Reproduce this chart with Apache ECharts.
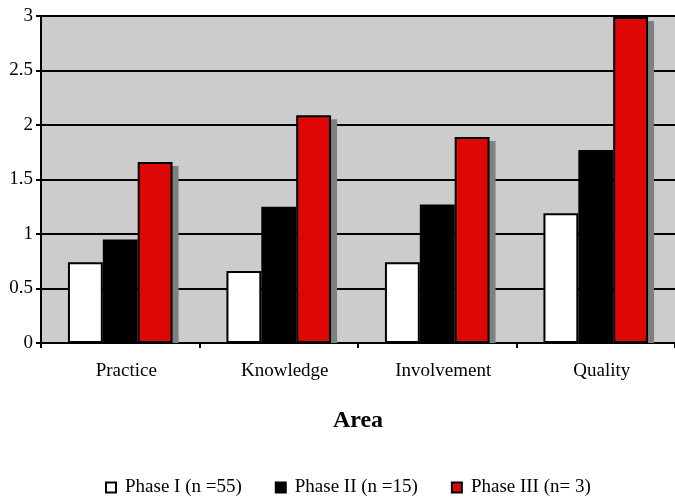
<!DOCTYPE html>
<html><head><meta charset="utf-8">
<script src="https://cdn.jsdelivr.net/npm/echarts@6/dist/echarts.min.js"></script>
<style>html,body{margin:0;padding:0;background:#fff}#c{width:675px;height:497px}</style>
</head><body><div id="c"></div>
<script>
const categories = ['Practice', 'Knowledge', 'Involvement', 'Quality'];
const phase1 = [0.74, 0.66, 0.74, 1.19];
const phase2 = [0.95, 1.25, 1.27, 1.77];
const phase3 = [1.66, 2.09, 1.89, 2.99];
const seriesNames = ['Phase I (n =55)', 'Phase II (n =15)', 'Phase III (n= 3)'];
const yTicks = [0, 0.5, 1, 1.5, 2, 2.5, 3];

const font = 'Liberation Serif';
const catGap = 0.34;
const chart = echarts.init(document.getElementById('c'), null, {renderer: 'canvas'});
chart.setOption({
  animation: false,
  textStyle: {fontFamily: font},
  grid: {left: 41, top: 16, width: 640, height: 327, show: true, backgroundColor: '#cccccc', borderWidth: 0, containLabel: false},
  legend: {
    top: 473, left: 100, itemWidth: 10, itemHeight: 10, itemGap: 33,
    textStyle: {fontFamily: font, fontSize: 19, color: '#000', padding: [0, 0, 0, 4]},
    data: seriesNames.map(n => ({name: n, icon: 'rect'}))
  },
  xAxis: {
    type: 'category', data: categories,
    name: 'Area', nameLocation: 'middle', nameGap: 66,
    nameTextStyle: {fontFamily: font, fontSize: 24, fontWeight: 'bold', color: '#000'},
    axisLine: {lineStyle: {color: '#000', width: 2}},
    axisTick: {show: true, length: 5, lineStyle: {color: '#000', width: 2}},
    axisLabel: {fontFamily: font, fontSize: 19, color: '#000', margin: 19, padding: [0, 0, 0, 12]},
    splitLine: {show: false}
  },
  yAxis: {
    type: 'value', min: 0, max: 3, interval: 0.5,
    axisLine: {show: true, lineStyle: {color: '#000', width: 2}},
    axisTick: {show: true, length: 5, lineStyle: {color: '#000', width: 2}},
    axisLabel: {fontFamily: font, fontSize: 19, color: '#000', margin: 8,
      formatter: v => yTicks.includes(v) ? String(v) : ''},
    splitLine: {show: true, lineStyle: {color: '#000', width: 2}}
  },
  series: [
    {type: 'custom', name: 'shadow', z: 1, silent: true, legendHoverLink: false,
     data: phase3.map((v, i) => [i, v]),
     renderItem: function (params, api) {
       const top = api.coord([api.value(0), api.value(1)]);
       const base = api.coord([api.value(0), 0]);
       const band = api.size([1, 0])[0];
       const bw = band * (1 - catGap) / 3;
       const x0 = top[0] + bw / 2 + 6;
       return {type: 'rect', shape: {x: x0, y: top[1] + 4, width: bw, height: base[1] - top[1] - 4},
               style: {fill: '#808080'}};
     }},
    {name: seriesNames[0], type: 'bar', data: phase1, barGap: '0%', barCategoryGap: (catGap * 100) + '%',
     itemStyle: {color: '#ffffff', borderColor: '#000', borderWidth: 2}},
    {name: seriesNames[1], type: 'bar', data: phase2,
     itemStyle: {color: '#000000', borderColor: '#000', borderWidth: 2}},
    {name: seriesNames[2], type: 'bar', data: phase3,
     itemStyle: {color: '#dd0806', borderColor: '#000', borderWidth: 2}}
  ]
});
</script></body></html>
